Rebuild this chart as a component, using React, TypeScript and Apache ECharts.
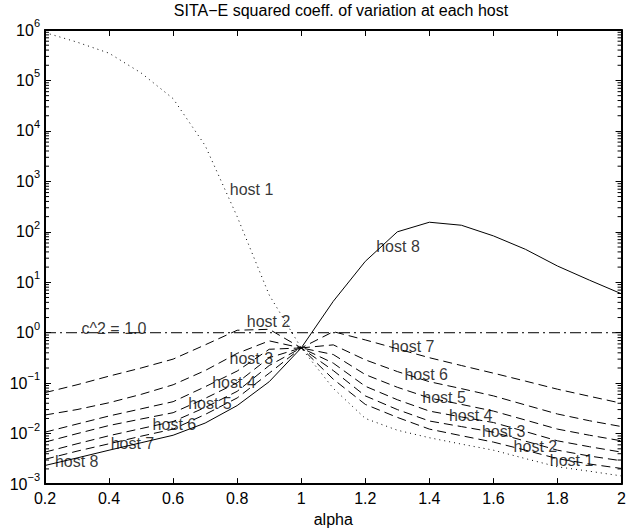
import React, { useEffect, useRef } from "react";
import * as echarts from "echarts";

const titleText = "SITA\u2212E squared coeff. of variation at each host";
const xName = "alpha";

const alpha = [0.2, 0.3, 0.4, 0.5, 0.6, 0.7, 0.8, 0.9, 1.0, 1.1, 1.2, 1.3, 1.4, 1.5, 1.6, 1.7, 1.8, 1.9, 2.0];

const host1 = [890000, 575000, 347000, 141000, 43600, 5130, 200, 5.6, 0.5, 0.079, 0.02, 0.0117, 0.0083, 0.0062, 0.0047, 0.0032, 0.0022, 0.0018, 0.00145];
const host2 = [0.065, 0.093, 0.138, 0.2, 0.3, 0.575, 1.12, 1.17, 0.5, 0.12, 0.038, 0.021, 0.0123, 0.0091, 0.0068, 0.0047, 0.0032, 0.0025, 0.00204];
const host3 = [0.0234, 0.03, 0.041, 0.06, 0.093, 0.178, 0.39, 0.69, 0.5, 0.178, 0.056, 0.03, 0.0178, 0.0138, 0.0107, 0.0071, 0.0047, 0.0036, 0.0029];
const host4 = [0.0107, 0.0155, 0.0224, 0.031, 0.043, 0.085, 0.174, 0.47, 0.5, 0.25, 0.087, 0.047, 0.028, 0.0214, 0.0166, 0.011, 0.0072, 0.0055, 0.0043];
const host5 = [0.0068, 0.01, 0.0145, 0.0195, 0.026, 0.05, 0.102, 0.32, 0.5, 0.37, 0.148, 0.083, 0.051, 0.038, 0.028, 0.0186, 0.0123, 0.0093, 0.0072];
const host6 = [0.0043, 0.0063, 0.0091, 0.0126, 0.0174, 0.033, 0.069, 0.224, 0.5, 0.575, 0.29, 0.17, 0.107, 0.078, 0.056, 0.037, 0.0245, 0.018, 0.0138];
const host7 = [0.0031, 0.0045, 0.0063, 0.0089, 0.0123, 0.024, 0.051, 0.158, 0.5, 1.05, 0.72, 0.48, 0.32, 0.224, 0.158, 0.11, 0.076, 0.055, 0.04];
const host8 = [0.00234, 0.0033, 0.0047, 0.0066, 0.0093, 0.0162, 0.036, 0.107, 0.5, 4.2, 26, 100, 155, 135, 83, 45, 21, 11, 5.9];

const refX = [0.2, 2.0];
const refY = [1.0, 1.0];

const labelText = ["host 1", "host 8", "c^2 = 1.0", "host 2", "host 3", "host 4", "host 5", "host 6", "host 7", "host 8", "host 7", "host 6", "host 5", "host 4", "host 3", "host 2", "host 1"];
const labelX = [0.777, 1.234, 0.314, 0.83, 0.776, 0.722, 0.647, 0.536, 0.405, 0.231, 1.28, 1.322, 1.378, 1.461, 1.564, 1.663, 1.776];
const labelY = [700, 52, 1.21, 1.64, 0.315, 0.102, 0.039, 0.015, 0.0065, 0.00275, 0.53, 0.148, 0.051, 0.0225, 0.011, 0.0056, 0.003];

const xMin = 0.2;
const xMax = 2.0;
const xStep = 0.2;
const yMin = 0.001;
const yMax = 1000000;
const minorMantissa = [2, 3, 4, 5, 6, 7, 8, 9];
const decades = [0.001, 0.01, 0.1, 1, 10, 100, 1000, 10000, 100000];

const FONT = "Liberation Sans, Arial, Helvetica, sans-serif";

export default function App() {
  const ref = useRef<HTMLDivElement>(null);
  useEffect(() => {
    if (!ref.current) return;
    const chart = echarts.init(ref.current, null, { renderer: "svg" });
    const minorTickValues: number[] = [];
    decades.forEach((d) => minorMantissa.forEach((m) => minorTickValues.push(m * d)));
    const lineSeries = (name: string, data: number[], type: any) => ({
      name,
      type: "line",
      data: alpha.map((a, i) => [a, data[i]]),
      symbol: "none",
      silent: true,
      lineStyle: { color: "#000", width: 1, type },
      z: 3,
    });
    const minorSeries = (name: string, x: number, off: number) => ({
      name,
      type: "scatter",
      silent: true,
      clip: false,
      data: minorTickValues.map((v) => [x, v]),
      symbol: "rect",
      symbolSize: [4, 1],
      symbolOffset: [off, 0],
      itemStyle: { color: "#000", opacity: 1 },
      z: 6,
    });
    const dashed = [9, 5];
    const option: any = {
      animation: false,
      backgroundColor: "#fff",
      textStyle: { fontFamily: FONT },
      title: {
        text: titleText,
        left: 336,
        top: -3,
        textAlign: "center",
        textStyle: { fontSize: 16, fontWeight: "normal", color: "#000", fontFamily: FONT },
      },
      grid: { left: 45, right: 3, top: 30, bottom: 43 },
      xAxis: [
        {
          type: "value",
          min: xMin,
          max: xMax,
          interval: xStep,
          position: "bottom",
          name: xName,
          nameLocation: "middle",
          nameGap: 23,
          nameTextStyle: { fontSize: 16, color: "#000", fontFamily: FONT },
          axisLine: { show: true, lineStyle: { color: "#000", width: 2 } },
          axisTick: { show: true, inside: true, length: 6, lineStyle: { color: "#000", width: 1 } },
          axisLabel: { fontSize: 16, color: "#000", margin: 6, fontFamily: FONT },
          splitLine: { show: false },
        },
        {
          type: "value",
          min: xMin,
          max: xMax,
          interval: xStep,
          position: "top",
          axisLine: { show: true, lineStyle: { color: "#000", width: 2 } },
          axisTick: { show: true, inside: true, length: 6, lineStyle: { color: "#000", width: 1 } },
          axisLabel: { show: false },
          splitLine: { show: false },
        },
      ],
      yAxis: [
        {
          type: "log",
          logBase: 10,
          min: yMin,
          max: yMax,
          interval: 1,
          splitNumber: 9,
          position: "left",
          axisLine: { show: true, lineStyle: { color: "#000", width: 2 } },
          axisTick: { show: true, inside: true, length: 6, lineStyle: { color: "#000", width: 1 } },
          axisLabel: {
            color: "#000",
            margin: 5,
            formatter: (v: number) => {
              const e = Math.round(Math.log10(v));
              const s = e < 0 ? "\u2212" + -e : String(e);
              return "{b|10}{e|" + s + "}";
            },
            rich: {
              b: { fontSize: 16, color: "#000", fontFamily: FONT },
              e: { fontSize: 11, color: "#000", fontFamily: FONT, padding: [0, 0, 14, 0] },
            },
          },
          splitLine: { show: false },
        },
        {
          type: "log",
          logBase: 10,
          min: yMin,
          max: yMax,
          interval: 1,
          splitNumber: 9,
          position: "right",
          axisLine: { show: true, lineStyle: { color: "#000", width: 2 } },
          axisTick: { show: true, inside: true, length: 6, lineStyle: { color: "#000", width: 1 } },
          axisLabel: { show: false },
          splitLine: { show: false },
        },
      ],
      series: [
        lineSeries("host 1", host1, [1, 4]),
        lineSeries("host 2", host2, dashed),
        lineSeries("host 3", host3, dashed),
        lineSeries("host 4", host4, dashed),
        lineSeries("host 5", host5, dashed),
        lineSeries("host 6", host6, dashed),
        lineSeries("host 7", host7, dashed),
        lineSeries("host 8", host8, "solid"),
        {
          name: "c^2",
          type: "line",
          data: refX.map((x, i) => [x, refY[i]]),
          symbol: "none",
          silent: true,
          lineStyle: { color: "#000", width: 1, type: [11, 4, 2, 4] },
          z: 3,
        },
        {
          name: "labels",
          type: "scatter",
          data: labelX.map((x, i) => ({ value: [x, labelY[i]], name: labelText[i] })),
          symbolSize: 0,
          silent: true,
          z: 5,
          label: {
            show: true,
            formatter: (p: any) => p.name,
            position: [0, 0],
            align: "left",
            verticalAlign: "middle",
            fontSize: 16,
            color: "#000",
            fontFamily: FONT,
          },
        },
        minorSeries("minor left", xMin, 2),
        minorSeries("minor right", xMax, -2),
      ],
    };
    chart.setOption(option);
    return () => chart.dispose();
  }, []);
  return (
    <div
      ref={ref}
      style={{ position: "fixed", left: 0, top: 0, width: 629, height: 532, background: "#fff" }}
    />
  );
}
